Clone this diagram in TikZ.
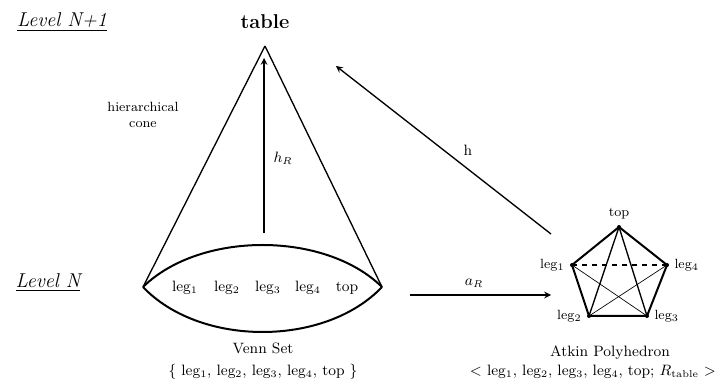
\documentclass[tikz,border=0pt]{standalone}
\usepackage{amsmath}
\usetikzlibrary{arrows.meta, positioning, calc}

\begin{document}
\begin{tikzpicture}[x=0.6pt, y=-0.6pt, >=stealth, every node/.style={font=\small}]
  \useasboundingbox (0,0) rectangle (720,383);
  % level labels
  \node[font=\large\itshape] (lvltop) at (62,22) {\underline{Level N+1}};
  \node[font=\large\itshape] (lvlbot) at (48,283) {\underline{Level N}};
  % hierarchical cone
  \node[font=\bfseries\large] (table) at (265,22) {table};
  \coordinate (apex) at (265,46);
  \coordinate (lensL) at (143,287);
  \coordinate (lensR) at (382,287);
  \draw[thick] (apex) -- (lensL);
  \draw[thick] (apex) -- (lensR);
  \draw[very thick] (lensL) .. controls (200,231) and (325,231) .. (lensR);
  \draw[very thick] (lensL) .. controls (200,347) and (325,347) .. (lensR);
  \node[font=\footnotesize, align=center] (conelbl) at (143,115) {hierarchical\\cone};
  \coordinate (hbase) at (264,233);
  \coordinate (htip) at (264,58);
  \draw[->, thick] (hbase) -- (htip);
  \node (hR) at (283,158) {$h_R$};
  \foreach \i/\x in {1/185, 2/227, 3/268, 4/308}
    \node (vleg\i) at (\x,288) {leg$_{\i}$};
  \node (vtop) at (347,288) {top};
  \node (venn) at (263,348) {Venn Set};
  \node (vennset) at (263,372) {\{ leg$_1$, leg$_2$, leg$_3$, leg$_4$, top \}};
  % Atkin polyhedron
  \coordinate (ptop) at (619,227);
  \coordinate (p1) at (572,265);
  \coordinate (p4) at (667,265);
  \coordinate (p2) at (589,316);
  \coordinate (p3) at (647,316);
  \draw[very thick] (ptop) -- (p4) -- (p3) -- (p2) -- (p1) -- cycle;
  \draw[thick] (ptop) -- (p2);
  \draw[thick] (ptop) -- (p3);
  \draw[thick, dashed] (p1) -- (p4);
  \draw (p1) -- (p3);
  \draw (p4) -- (p2);
  \foreach \p in {ptop, p1, p2, p3, p4}
    \fill (\p) circle (2);
  \node[above=1pt of ptop, font=\footnotesize] (ltop) {top};
  \node[left=1pt of p1, font=\footnotesize] (lleg1) {leg$_1$};
  \node[right=1pt of p4, font=\footnotesize] (lleg4) {leg$_4$};
  \node[left=1pt of p2, font=\footnotesize] (lleg2) {leg$_2$};
  \node[right=1pt of p3, font=\footnotesize] (lleg3) {leg$_3$};
  \node (atkin) at (610,353) {Atkin Polyhedron};
  \node[anchor=west] (atkinset) at (464,372)
    {$<$ leg$_1$, leg$_2$, leg$_3$, leg$_4$, top; $R_{\text{table}}$ $>$};
  % maps between levels
  \coordinate (hstart) at (551,234);
  \coordinate (hend) at (336,66);
  \draw[->, thick] (hstart) -- (hend);
  \node (hlbl) at (468,150) {h};
  \coordinate (astart) at (410,295);
  \coordinate (aend) at (551,295);
  \draw[->, thick] (astart) -- (aend);
  \node (aR) at (474,283) {$a_R$};
\end{tikzpicture}
\end{document}
